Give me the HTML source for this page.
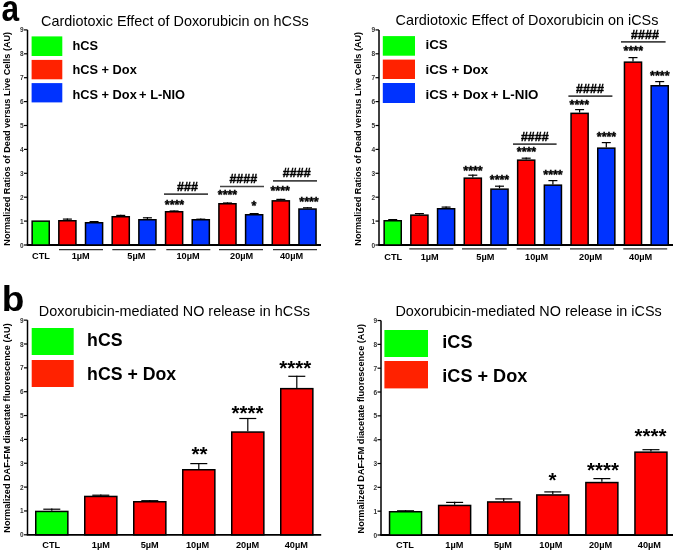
<!DOCTYPE html>
<html><head><meta charset="utf-8"><style>
html,body{margin:0;padding:0;background:#fff;width:675px;height:553px;overflow:hidden;}
body{position:relative;font-family:"Liberation Sans", sans-serif;}
</style></head><body>
<svg width="675" height="553" viewBox="0 0 675 553" style="position:absolute;left:0;top:0;will-change:transform"><g font-family='"Liberation Sans", sans-serif'><g transform="translate(1.6 21.1) scale(0.93 1.07)"><text x="0" y="0" font-size="34" font-weight="700">a</text></g><g transform="translate(1.8 310.8) scale(1 0.97)"><text x="0" y="0" font-size="37" font-weight="700">b</text></g><text x="41" y="25.6" font-size="14.4" font-weight="400" text-anchor="start" fill="#000" >Cardiotoxic Effect of Doxorubicin on hCSs</text><text x="395.5" y="25.4" font-size="14.4" font-weight="400" text-anchor="start" fill="#000" >Cardiotoxic Effect of Doxorubicin on iCSs</text><text x="38.8" y="315.7" font-size="14.4" font-weight="400" text-anchor="start" fill="#000" >Doxorubicin-mediated NO release in hCSs</text><text x="395.4" y="316.2" font-size="14.4" font-weight="400" text-anchor="start" fill="#000" >Doxorubicin-mediated NO release in iCSs</text><line x1="27.5" y1="29.900000000000006" x2="27.5" y2="245.0" stroke="#000" stroke-width="1.5"/><line x1="26.75" y1="245.0" x2="321" y2="245.0" stroke="#000" stroke-width="1.8"/><line x1="24.0" y1="245.0" x2="27.5" y2="245.0" stroke="#000" stroke-width="1.2"/><text x="23.6" y="247.5" font-size="6.5" font-weight="700" text-anchor="end" fill="#333" >0</text><line x1="24.0" y1="221.1" x2="27.5" y2="221.1" stroke="#000" stroke-width="1.2"/><text x="23.6" y="223.6" font-size="6.5" font-weight="700" text-anchor="end" fill="#333" >1</text><line x1="24.0" y1="197.2" x2="27.5" y2="197.2" stroke="#000" stroke-width="1.2"/><text x="23.6" y="199.7" font-size="6.5" font-weight="700" text-anchor="end" fill="#333" >2</text><line x1="24.0" y1="173.3" x2="27.5" y2="173.3" stroke="#000" stroke-width="1.2"/><text x="23.6" y="175.8" font-size="6.5" font-weight="700" text-anchor="end" fill="#333" >3</text><line x1="24.0" y1="149.4" x2="27.5" y2="149.4" stroke="#000" stroke-width="1.2"/><text x="23.6" y="151.9" font-size="6.5" font-weight="700" text-anchor="end" fill="#333" >4</text><line x1="24.0" y1="125.5" x2="27.5" y2="125.5" stroke="#000" stroke-width="1.2"/><text x="23.6" y="128.0" font-size="6.5" font-weight="700" text-anchor="end" fill="#333" >5</text><line x1="24.0" y1="101.60000000000002" x2="27.5" y2="101.60000000000002" stroke="#000" stroke-width="1.2"/><text x="23.6" y="104.1" font-size="6.5" font-weight="700" text-anchor="end" fill="#333" >6</text><line x1="24.0" y1="77.70000000000002" x2="27.5" y2="77.70000000000002" stroke="#000" stroke-width="1.2"/><text x="23.6" y="80.2" font-size="6.5" font-weight="700" text-anchor="end" fill="#333" >7</text><line x1="24.0" y1="53.80000000000001" x2="27.5" y2="53.80000000000001" stroke="#000" stroke-width="1.2"/><text x="23.6" y="56.3" font-size="6.5" font-weight="700" text-anchor="end" fill="#333" >8</text><line x1="24.0" y1="29.900000000000006" x2="27.5" y2="29.900000000000006" stroke="#000" stroke-width="1.2"/><text x="23.6" y="32.4" font-size="6.5" font-weight="700" text-anchor="end" fill="#333" >9</text><g transform="translate(9.9 138.8) rotate(-90) scale(1 1)"><text x="0" y="0" font-size="9.1" font-weight="700" text-anchor="middle">Normalized Ratios of Dead versus Live Cells (AU)</text></g><rect x="32.15" y="221.15" width="17.1" height="23.849999999999994" fill="#00ff00" stroke="#000" stroke-width="1.5"/><rect x="58.83" y="220.75" width="17.1" height="24.25" fill="#ff0000" stroke="#000" stroke-width="1.5"/><line x1="67.38" y1="218.5" x2="67.38" y2="220" stroke="#000" stroke-width="1.2"/><line x1="62.879999999999995" y1="219.1" x2="71.88" y2="219.1" stroke="#000" stroke-width="1.2"/><rect x="85.50999999999999" y="222.75" width="17.1" height="22.25" fill="#0033ff" stroke="#000" stroke-width="1.5"/><line x1="94.05999999999999" y1="221" x2="94.05999999999999" y2="222" stroke="#000" stroke-width="1.2"/><line x1="89.55999999999999" y1="221.6" x2="98.55999999999999" y2="221.6" stroke="#000" stroke-width="1.2"/><rect x="112.19" y="216.75" width="17.1" height="28.25" fill="#ff0000" stroke="#000" stroke-width="1.5"/><line x1="120.74" y1="214.8" x2="120.74" y2="216" stroke="#000" stroke-width="1.2"/><line x1="116.24" y1="215.4" x2="125.24" y2="215.4" stroke="#000" stroke-width="1.2"/><rect x="138.87" y="219.75" width="17.1" height="25.25" fill="#0033ff" stroke="#000" stroke-width="1.5"/><line x1="147.42000000000002" y1="217.2" x2="147.42000000000002" y2="219" stroke="#000" stroke-width="1.2"/><line x1="142.92000000000002" y1="217.79999999999998" x2="151.92000000000002" y2="217.79999999999998" stroke="#000" stroke-width="1.2"/><rect x="165.55" y="211.75" width="17.1" height="33.25" fill="#ff0000" stroke="#000" stroke-width="1.5"/><line x1="174.10000000000002" y1="210.4" x2="174.10000000000002" y2="211" stroke="#000" stroke-width="1.2"/><line x1="169.60000000000002" y1="211.0" x2="178.60000000000002" y2="211.0" stroke="#000" stroke-width="1.2"/><rect x="192.23" y="219.75" width="17.1" height="25.25" fill="#0033ff" stroke="#000" stroke-width="1.5"/><line x1="200.78" y1="218.6" x2="200.78" y2="219" stroke="#000" stroke-width="1.2"/><line x1="196.28" y1="219.2" x2="205.28" y2="219.2" stroke="#000" stroke-width="1.2"/><rect x="218.91" y="203.75" width="17.1" height="41.25" fill="#ff0000" stroke="#000" stroke-width="1.5"/><line x1="227.46" y1="202.4" x2="227.46" y2="203" stroke="#000" stroke-width="1.2"/><line x1="222.96" y1="203.0" x2="231.96" y2="203.0" stroke="#000" stroke-width="1.2"/><rect x="245.59" y="214.75" width="17.1" height="30.25" fill="#0033ff" stroke="#000" stroke-width="1.5"/><line x1="254.14000000000001" y1="213" x2="254.14000000000001" y2="214" stroke="#000" stroke-width="1.2"/><line x1="249.64000000000001" y1="213.6" x2="258.64" y2="213.6" stroke="#000" stroke-width="1.2"/><rect x="272.27" y="200.85" width="17.1" height="44.150000000000006" fill="#ff0000" stroke="#000" stroke-width="1.5"/><line x1="280.82" y1="198.8" x2="280.82" y2="200.1" stroke="#000" stroke-width="1.2"/><line x1="276.32" y1="199.4" x2="285.32" y2="199.4" stroke="#000" stroke-width="1.2"/><rect x="298.95" y="209.05" width="17.1" height="35.94999999999999" fill="#0033ff" stroke="#000" stroke-width="1.5"/><line x1="307.5" y1="207.2" x2="307.5" y2="208.3" stroke="#000" stroke-width="1.2"/><line x1="303.0" y1="207.79999999999998" x2="312.0" y2="207.79999999999998" stroke="#000" stroke-width="1.2"/><rect x="31.6" y="36.4" width="30.7" height="19.6" fill="#00ff00"/><rect x="31.6" y="59.9" width="30.7" height="19.4" fill="#ff2200"/><rect x="31.6" y="83.1" width="30.7" height="19.3" fill="#0033ff"/><text x="72.4" y="49.8" font-size="12.8" font-weight="700" text-anchor="start" fill="#000" >hCS</text><text x="72.4" y="74.4" font-size="12.8" font-weight="700" text-anchor="start" fill="#000" >hCS + Dox</text><text x="72.4" y="99.2" font-size="12.8" font-weight="700" text-anchor="start" fill="#000" >hCS + Dox<tspan dx='-1.2'> + L-NIO</tspan></text><text x="41" y="259.2" font-size="9.2" font-weight="700" text-anchor="middle" fill="#000" >CTL</text><text x="80.7" y="259.2" font-size="9.2" font-weight="700" text-anchor="middle" fill="#000" >1µM</text><text x="136.3" y="259.2" font-size="9.2" font-weight="700" text-anchor="middle" fill="#000" >5µM</text><text x="188" y="259.2" font-size="9.2" font-weight="700" text-anchor="middle" fill="#000" >10µM</text><text x="241.7" y="259.2" font-size="9.2" font-weight="700" text-anchor="middle" fill="#000" >20µM</text><text x="291.6" y="259.2" font-size="9.2" font-weight="700" text-anchor="middle" fill="#000" >40µM</text><line x1="59" y1="249.6" x2="103" y2="249.6" stroke="#333" stroke-width="1.4"/><line x1="112.3" y1="249.6" x2="155.7" y2="249.6" stroke="#333" stroke-width="1.4"/><line x1="166.3" y1="249.6" x2="210.3" y2="249.6" stroke="#333" stroke-width="1.4"/><line x1="219" y1="249.6" x2="263" y2="249.6" stroke="#333" stroke-width="1.4"/><line x1="273" y1="249.6" x2="317" y2="249.6" stroke="#333" stroke-width="1.4"/><line x1="379" y1="29.900000000000006" x2="379" y2="245.0" stroke="#000" stroke-width="1.5"/><line x1="378.25" y1="245.0" x2="673" y2="245.0" stroke="#000" stroke-width="1.8"/><line x1="375.5" y1="245.0" x2="379" y2="245.0" stroke="#000" stroke-width="1.2"/><text x="375.1" y="247.5" font-size="6.5" font-weight="700" text-anchor="end" fill="#333" >0</text><line x1="375.5" y1="221.1" x2="379" y2="221.1" stroke="#000" stroke-width="1.2"/><text x="375.1" y="223.6" font-size="6.5" font-weight="700" text-anchor="end" fill="#333" >1</text><line x1="375.5" y1="197.2" x2="379" y2="197.2" stroke="#000" stroke-width="1.2"/><text x="375.1" y="199.7" font-size="6.5" font-weight="700" text-anchor="end" fill="#333" >2</text><line x1="375.5" y1="173.3" x2="379" y2="173.3" stroke="#000" stroke-width="1.2"/><text x="375.1" y="175.8" font-size="6.5" font-weight="700" text-anchor="end" fill="#333" >3</text><line x1="375.5" y1="149.4" x2="379" y2="149.4" stroke="#000" stroke-width="1.2"/><text x="375.1" y="151.9" font-size="6.5" font-weight="700" text-anchor="end" fill="#333" >4</text><line x1="375.5" y1="125.5" x2="379" y2="125.5" stroke="#000" stroke-width="1.2"/><text x="375.1" y="128.0" font-size="6.5" font-weight="700" text-anchor="end" fill="#333" >5</text><line x1="375.5" y1="101.60000000000002" x2="379" y2="101.60000000000002" stroke="#000" stroke-width="1.2"/><text x="375.1" y="104.1" font-size="6.5" font-weight="700" text-anchor="end" fill="#333" >6</text><line x1="375.5" y1="77.70000000000002" x2="379" y2="77.70000000000002" stroke="#000" stroke-width="1.2"/><text x="375.1" y="80.2" font-size="6.5" font-weight="700" text-anchor="end" fill="#333" >7</text><line x1="375.5" y1="53.80000000000001" x2="379" y2="53.80000000000001" stroke="#000" stroke-width="1.2"/><text x="375.1" y="56.3" font-size="6.5" font-weight="700" text-anchor="end" fill="#333" >8</text><line x1="375.5" y1="29.900000000000006" x2="379" y2="29.900000000000006" stroke="#000" stroke-width="1.2"/><text x="375.1" y="32.4" font-size="6.5" font-weight="700" text-anchor="end" fill="#333" >9</text><g transform="translate(361.4 138.8) rotate(-90) scale(1 1)"><text x="0" y="0" font-size="9.1" font-weight="700" text-anchor="middle">Normalized Ratios of Dead versus Live Cells (AU)</text></g><rect x="384.15" y="220.75" width="17.1" height="24.25" fill="#00ff00" stroke="#000" stroke-width="1.5"/><line x1="392.7" y1="219" x2="392.7" y2="220" stroke="#000" stroke-width="1.2"/><line x1="388.2" y1="219.6" x2="397.2" y2="219.6" stroke="#000" stroke-width="1.2"/><rect x="410.84999999999997" y="215.15" width="17.1" height="29.849999999999994" fill="#ff0000" stroke="#000" stroke-width="1.5"/><line x1="419.4" y1="213" x2="419.4" y2="214.4" stroke="#000" stroke-width="1.2"/><line x1="414.9" y1="213.6" x2="423.9" y2="213.6" stroke="#000" stroke-width="1.2"/><rect x="437.54999999999995" y="208.75" width="17.1" height="36.25" fill="#0033ff" stroke="#000" stroke-width="1.5"/><line x1="446.09999999999997" y1="206.5" x2="446.09999999999997" y2="208" stroke="#000" stroke-width="1.2"/><line x1="441.59999999999997" y1="207.1" x2="450.59999999999997" y2="207.1" stroke="#000" stroke-width="1.2"/><rect x="464.25" y="178.15" width="17.1" height="66.85" fill="#ff0000" stroke="#000" stroke-width="1.5"/><line x1="472.8" y1="174.6" x2="472.8" y2="177.4" stroke="#000" stroke-width="1.2"/><line x1="468.3" y1="175.2" x2="477.3" y2="175.2" stroke="#000" stroke-width="1.2"/><rect x="490.95" y="189.15" width="17.1" height="55.849999999999994" fill="#0033ff" stroke="#000" stroke-width="1.5"/><line x1="499.5" y1="185.6" x2="499.5" y2="188.4" stroke="#000" stroke-width="1.2"/><line x1="495.0" y1="186.2" x2="504.0" y2="186.2" stroke="#000" stroke-width="1.2"/><rect x="517.65" y="160.15" width="17.1" height="84.85" fill="#ff0000" stroke="#000" stroke-width="1.5"/><line x1="526.1999999999999" y1="157.6" x2="526.1999999999999" y2="159.4" stroke="#000" stroke-width="1.2"/><line x1="521.6999999999999" y1="158.2" x2="530.6999999999999" y2="158.2" stroke="#000" stroke-width="1.2"/><rect x="544.3499999999999" y="185.15" width="17.1" height="59.849999999999994" fill="#0033ff" stroke="#000" stroke-width="1.5"/><line x1="552.8999999999999" y1="180" x2="552.8999999999999" y2="184.4" stroke="#000" stroke-width="1.2"/><line x1="548.3999999999999" y1="180.6" x2="557.3999999999999" y2="180.6" stroke="#000" stroke-width="1.2"/><rect x="571.05" y="113.35" width="17.1" height="131.65" fill="#ff0000" stroke="#000" stroke-width="1.5"/><line x1="579.5999999999999" y1="109" x2="579.5999999999999" y2="112.6" stroke="#000" stroke-width="1.2"/><line x1="575.0999999999999" y1="109.6" x2="584.0999999999999" y2="109.6" stroke="#000" stroke-width="1.2"/><rect x="597.75" y="148.15" width="17.1" height="96.85" fill="#0033ff" stroke="#000" stroke-width="1.5"/><line x1="606.3" y1="142" x2="606.3" y2="147.4" stroke="#000" stroke-width="1.2"/><line x1="601.8" y1="142.6" x2="610.8" y2="142.6" stroke="#000" stroke-width="1.2"/><rect x="624.4499999999999" y="62.15" width="17.1" height="182.85" fill="#ff0000" stroke="#000" stroke-width="1.5"/><line x1="632.9999999999999" y1="57" x2="632.9999999999999" y2="61.4" stroke="#000" stroke-width="1.2"/><line x1="628.4999999999999" y1="57.6" x2="637.4999999999999" y2="57.6" stroke="#000" stroke-width="1.2"/><rect x="651.15" y="85.75" width="17.1" height="159.25" fill="#0033ff" stroke="#000" stroke-width="1.5"/><line x1="659.6999999999999" y1="81" x2="659.6999999999999" y2="85" stroke="#000" stroke-width="1.2"/><line x1="655.1999999999999" y1="81.6" x2="664.1999999999999" y2="81.6" stroke="#000" stroke-width="1.2"/><rect x="382.8" y="36.1" width="32.2" height="19.6" fill="#00ff00"/><rect x="382.8" y="59.6" width="32.2" height="19.4" fill="#ff2200"/><rect x="382.8" y="83" width="32.2" height="20" fill="#0033ff"/><text x="425.5" y="49.4" font-size="13.35" font-weight="700" text-anchor="start" fill="#000" >iCS</text><text x="425.5" y="74.1" font-size="13.35" font-weight="700" text-anchor="start" fill="#000" >iCS + Dox</text><text x="425.5" y="99.4" font-size="13.35" font-weight="700" text-anchor="start" fill="#000" >iCS + Dox<tspan dx='-1.2'> + L-NIO</tspan></text><text x="393.2" y="260.2" font-size="9.2" font-weight="700" text-anchor="middle" fill="#000" >CTL</text><text x="429.7" y="260.2" font-size="9.2" font-weight="700" text-anchor="middle" fill="#000" >1µM</text><text x="485.3" y="260.2" font-size="9.2" font-weight="700" text-anchor="middle" fill="#000" >5µM</text><text x="536.7" y="260.2" font-size="9.2" font-weight="700" text-anchor="middle" fill="#000" >10µM</text><text x="590.7" y="260.2" font-size="9.2" font-weight="700" text-anchor="middle" fill="#000" >20µM</text><text x="640.7" y="260.2" font-size="9.2" font-weight="700" text-anchor="middle" fill="#000" >40µM</text><line x1="409.3" y1="248.9" x2="453.3" y2="248.9" stroke="#333" stroke-width="1.4"/><line x1="462" y1="248.9" x2="506.7" y2="248.9" stroke="#333" stroke-width="1.4"/><line x1="516.7" y1="248.9" x2="560" y2="248.9" stroke="#333" stroke-width="1.4"/><line x1="570" y1="248.9" x2="614" y2="248.9" stroke="#333" stroke-width="1.4"/><line x1="623.3" y1="248.9" x2="667.2" y2="248.9" stroke="#333" stroke-width="1.4"/><line x1="27.5" y1="320.15" x2="27.5" y2="534.8" stroke="#000" stroke-width="1.5"/><line x1="26.75" y1="534.8" x2="321.2" y2="534.8" stroke="#000" stroke-width="1.8"/><line x1="24.0" y1="534.8" x2="27.5" y2="534.8" stroke="#000" stroke-width="1.2"/><text x="23.6" y="537.3" font-size="6.5" font-weight="700" text-anchor="end" fill="#333" >0</text><line x1="24.0" y1="510.94999999999993" x2="27.5" y2="510.94999999999993" stroke="#000" stroke-width="1.2"/><text x="23.6" y="513.4" font-size="6.5" font-weight="700" text-anchor="end" fill="#333" >1</text><line x1="24.0" y1="487.09999999999997" x2="27.5" y2="487.09999999999997" stroke="#000" stroke-width="1.2"/><text x="23.6" y="489.6" font-size="6.5" font-weight="700" text-anchor="end" fill="#333" >2</text><line x1="24.0" y1="463.24999999999994" x2="27.5" y2="463.24999999999994" stroke="#000" stroke-width="1.2"/><text x="23.6" y="465.7" font-size="6.5" font-weight="700" text-anchor="end" fill="#333" >3</text><line x1="24.0" y1="439.4" x2="27.5" y2="439.4" stroke="#000" stroke-width="1.2"/><text x="23.6" y="441.9" font-size="6.5" font-weight="700" text-anchor="end" fill="#333" >4</text><line x1="24.0" y1="415.54999999999995" x2="27.5" y2="415.54999999999995" stroke="#000" stroke-width="1.2"/><text x="23.6" y="418.0" font-size="6.5" font-weight="700" text-anchor="end" fill="#333" >5</text><line x1="24.0" y1="391.69999999999993" x2="27.5" y2="391.69999999999993" stroke="#000" stroke-width="1.2"/><text x="23.6" y="394.2" font-size="6.5" font-weight="700" text-anchor="end" fill="#333" >6</text><line x1="24.0" y1="367.8499999999999" x2="27.5" y2="367.8499999999999" stroke="#000" stroke-width="1.2"/><text x="23.6" y="370.3" font-size="6.5" font-weight="700" text-anchor="end" fill="#333" >7</text><line x1="24.0" y1="343.99999999999994" x2="27.5" y2="343.99999999999994" stroke="#000" stroke-width="1.2"/><text x="23.6" y="346.5" font-size="6.5" font-weight="700" text-anchor="end" fill="#333" >8</text><line x1="24.0" y1="320.15" x2="27.5" y2="320.15" stroke="#000" stroke-width="1.2"/><text x="23.6" y="322.6" font-size="6.5" font-weight="700" text-anchor="end" fill="#333" >9</text><g transform="translate(9.6 428) rotate(-90) scale(1 1)"><text x="0" y="0" font-size="9.15" font-weight="700" text-anchor="middle">Normalized DAF-FM diacetate fluorescence (AU)</text></g><rect x="35.75" y="511.45" width="32.1" height="23.349999999999966" fill="#00ff00" stroke="#000" stroke-width="1.5"/><line x1="51.8" y1="508.6" x2="51.8" y2="510.7" stroke="#000" stroke-width="1.2"/><line x1="43.3" y1="509.20000000000005" x2="60.3" y2="509.20000000000005" stroke="#000" stroke-width="1.2"/><rect x="84.75" y="496.45" width="32.1" height="38.349999999999966" fill="#ff0000" stroke="#000" stroke-width="1.5"/><line x1="100.8" y1="494.6" x2="100.8" y2="495.7" stroke="#000" stroke-width="1.2"/><line x1="92.3" y1="495.20000000000005" x2="109.3" y2="495.20000000000005" stroke="#000" stroke-width="1.2"/><rect x="133.75" y="501.75" width="32.1" height="33.049999999999955" fill="#ff0000" stroke="#000" stroke-width="1.5"/><line x1="149.8" y1="500.1" x2="149.8" y2="501.0" stroke="#000" stroke-width="1.2"/><line x1="141.3" y1="500.70000000000005" x2="158.3" y2="500.70000000000005" stroke="#000" stroke-width="1.2"/><rect x="182.75" y="469.75" width="32.1" height="65.04999999999995" fill="#ff0000" stroke="#000" stroke-width="1.5"/><line x1="198.8" y1="463.0" x2="198.8" y2="469.0" stroke="#000" stroke-width="1.2"/><line x1="190.3" y1="463.6" x2="207.3" y2="463.6" stroke="#000" stroke-width="1.2"/><rect x="231.75" y="432.05" width="32.1" height="102.74999999999994" fill="#ff0000" stroke="#000" stroke-width="1.5"/><line x1="247.8" y1="417.9" x2="247.8" y2="431.3" stroke="#000" stroke-width="1.2"/><line x1="239.3" y1="418.5" x2="256.3" y2="418.5" stroke="#000" stroke-width="1.2"/><rect x="280.75" y="388.65" width="32.1" height="146.14999999999998" fill="#ff0000" stroke="#000" stroke-width="1.5"/><line x1="296.8" y1="375.7" x2="296.8" y2="387.9" stroke="#000" stroke-width="1.2"/><line x1="288.3" y1="376.3" x2="305.3" y2="376.3" stroke="#000" stroke-width="1.2"/><rect x="31.7" y="328" width="42" height="27" fill="#00ff00"/><rect x="31.7" y="360" width="42" height="27" fill="#ff2200"/><text x="87.1" y="346" font-size="17.7" font-weight="700" text-anchor="start" fill="#000" >hCS</text><text x="87.1" y="379.6" font-size="17.7" font-weight="700" text-anchor="start" fill="#000" >hCS + Dox</text><text x="51.3" y="548.4" font-size="9.2" font-weight="700" text-anchor="middle" fill="#000" >CTL</text><text x="100.9" y="548.4" font-size="9.2" font-weight="700" text-anchor="middle" fill="#000" >1µM</text><text x="149.7" y="548.4" font-size="9.2" font-weight="700" text-anchor="middle" fill="#000" >5µM</text><text x="197.6" y="548.4" font-size="9.2" font-weight="700" text-anchor="middle" fill="#000" >10µM</text><text x="247.6" y="548.4" font-size="9.2" font-weight="700" text-anchor="middle" fill="#000" >20µM</text><text x="296.3" y="548.4" font-size="9.2" font-weight="700" text-anchor="middle" fill="#000" >40µM</text><line x1="381" y1="320.53000000000003" x2="381" y2="535.0" stroke="#000" stroke-width="1.5"/><line x1="380.25" y1="535.0" x2="673" y2="535.0" stroke="#000" stroke-width="1.8"/><line x1="377.5" y1="535.0" x2="381" y2="535.0" stroke="#000" stroke-width="1.2"/><text x="377.1" y="537.5" font-size="6.5" font-weight="700" text-anchor="end" fill="#333" >0</text><line x1="377.5" y1="511.17" x2="381" y2="511.17" stroke="#000" stroke-width="1.2"/><text x="377.1" y="513.7" font-size="6.5" font-weight="700" text-anchor="end" fill="#333" >1</text><line x1="377.5" y1="487.34000000000003" x2="381" y2="487.34000000000003" stroke="#000" stroke-width="1.2"/><text x="377.1" y="489.8" font-size="6.5" font-weight="700" text-anchor="end" fill="#333" >2</text><line x1="377.5" y1="463.51" x2="381" y2="463.51" stroke="#000" stroke-width="1.2"/><text x="377.1" y="466.0" font-size="6.5" font-weight="700" text-anchor="end" fill="#333" >3</text><line x1="377.5" y1="439.68" x2="381" y2="439.68" stroke="#000" stroke-width="1.2"/><text x="377.1" y="442.2" font-size="6.5" font-weight="700" text-anchor="end" fill="#333" >4</text><line x1="377.5" y1="415.85" x2="381" y2="415.85" stroke="#000" stroke-width="1.2"/><text x="377.1" y="418.4" font-size="6.5" font-weight="700" text-anchor="end" fill="#333" >5</text><line x1="377.5" y1="392.02" x2="381" y2="392.02" stroke="#000" stroke-width="1.2"/><text x="377.1" y="394.5" font-size="6.5" font-weight="700" text-anchor="end" fill="#333" >6</text><line x1="377.5" y1="368.19" x2="381" y2="368.19" stroke="#000" stroke-width="1.2"/><text x="377.1" y="370.7" font-size="6.5" font-weight="700" text-anchor="end" fill="#333" >7</text><line x1="377.5" y1="344.36" x2="381" y2="344.36" stroke="#000" stroke-width="1.2"/><text x="377.1" y="346.9" font-size="6.5" font-weight="700" text-anchor="end" fill="#333" >8</text><line x1="377.5" y1="320.53000000000003" x2="381" y2="320.53000000000003" stroke="#000" stroke-width="1.2"/><text x="377.1" y="323.0" font-size="6.5" font-weight="700" text-anchor="end" fill="#333" >9</text><g transform="translate(364.0 428.7) rotate(-90) scale(1 1)"><text x="0" y="0" font-size="9.15" font-weight="700" text-anchor="middle">Normalized DAF-FM diacetate fluorescence (AU)</text></g><rect x="389.55" y="511.75" width="32.0" height="23.25" fill="#00ff00" stroke="#000" stroke-width="1.5"/><line x1="405.55" y1="510.2" x2="405.55" y2="511" stroke="#000" stroke-width="1.2"/><line x1="397.05" y1="510.8" x2="414.05" y2="510.8" stroke="#000" stroke-width="1.2"/><rect x="438.63" y="505.45" width="32.0" height="29.55000000000001" fill="#ff0000" stroke="#000" stroke-width="1.5"/><line x1="454.63" y1="501.8" x2="454.63" y2="504.7" stroke="#000" stroke-width="1.2"/><line x1="446.13" y1="502.40000000000003" x2="463.13" y2="502.40000000000003" stroke="#000" stroke-width="1.2"/><rect x="487.71000000000004" y="501.95" width="32.0" height="33.05000000000001" fill="#ff0000" stroke="#000" stroke-width="1.5"/><line x1="503.71000000000004" y1="498.3" x2="503.71000000000004" y2="501.2" stroke="#000" stroke-width="1.2"/><line x1="495.21000000000004" y1="498.90000000000003" x2="512.21" y2="498.90000000000003" stroke="#000" stroke-width="1.2"/><rect x="536.79" y="494.95" width="32.0" height="40.05000000000001" fill="#ff0000" stroke="#000" stroke-width="1.5"/><line x1="552.79" y1="491.3" x2="552.79" y2="494.2" stroke="#000" stroke-width="1.2"/><line x1="544.29" y1="491.90000000000003" x2="561.29" y2="491.90000000000003" stroke="#000" stroke-width="1.2"/><rect x="585.87" y="482.55" width="32.0" height="52.44999999999999" fill="#ff0000" stroke="#000" stroke-width="1.5"/><line x1="601.87" y1="478" x2="601.87" y2="481.8" stroke="#000" stroke-width="1.2"/><line x1="593.37" y1="478.6" x2="610.37" y2="478.6" stroke="#000" stroke-width="1.2"/><rect x="634.95" y="452.15" width="32.0" height="82.85000000000002" fill="#ff0000" stroke="#000" stroke-width="1.5"/><line x1="650.95" y1="449.1" x2="650.95" y2="451.4" stroke="#000" stroke-width="1.2"/><line x1="642.45" y1="449.70000000000005" x2="659.45" y2="449.70000000000005" stroke="#000" stroke-width="1.2"/><rect x="384.4" y="330" width="43.6" height="27" fill="#00ff00"/><rect x="384.4" y="361" width="43.6" height="27.4" fill="#ff2200"/><text x="442.3" y="348.1" font-size="18.1" font-weight="700" text-anchor="start" fill="#000" >iCS</text><text x="442.3" y="382.1" font-size="18.1" font-weight="700" text-anchor="start" fill="#000" >iCS + Dox</text><text x="405" y="548.4" font-size="9.2" font-weight="700" text-anchor="middle" fill="#000" >CTL</text><text x="454.4" y="548.4" font-size="9.2" font-weight="700" text-anchor="middle" fill="#000" >1µM</text><text x="503" y="548.4" font-size="9.2" font-weight="700" text-anchor="middle" fill="#000" >5µM</text><text x="550.9" y="548.4" font-size="9.2" font-weight="700" text-anchor="middle" fill="#000" >10µM</text><text x="600.6" y="548.4" font-size="9.2" font-weight="700" text-anchor="middle" fill="#000" >20µM</text><text x="649.4" y="548.4" font-size="9.2" font-weight="700" text-anchor="middle" fill="#000" >40µM</text><text x="174.5" y="208.7" font-size="12.5" font-weight="700" text-anchor="middle" fill="#000" stroke='#000' stroke-width='0.4'>****</text><line x1="164" y1="194.1" x2="208" y2="194.1" stroke="#444" stroke-width="1.6"/><g transform="translate(187.5 191.3) scale(0.92 1)"><text x="0" y="0" font-size="13.6" font-weight="700" text-anchor="middle" stroke="#000" stroke-width="0.45">###</text></g><text x="227.5" y="198.8" font-size="12.5" font-weight="700" text-anchor="middle" fill="#000" stroke='#000' stroke-width='0.4'>****</text><text x="254" y="210.4" font-size="12.5" font-weight="700" text-anchor="middle" fill="#000" stroke='#000' stroke-width='0.4'>*</text><line x1="220" y1="186.5" x2="264" y2="186.5" stroke="#444" stroke-width="1.6"/><g transform="translate(243.3 183.3) scale(0.92 1)"><text x="0" y="0" font-size="13.6" font-weight="700" text-anchor="middle" stroke="#000" stroke-width="0.45">####</text></g><text x="280.2" y="194.8" font-size="12.5" font-weight="700" text-anchor="middle" fill="#000" stroke='#000' stroke-width='0.4'>****</text><text x="309" y="206.3" font-size="12.5" font-weight="700" text-anchor="middle" fill="#000" stroke='#000' stroke-width='0.4'>****</text><line x1="273" y1="180.9" x2="317" y2="180.9" stroke="#444" stroke-width="1.6"/><g transform="translate(296.7 177.0) scale(0.92 1)"><text x="0" y="0" font-size="13.6" font-weight="700" text-anchor="middle" stroke="#000" stroke-width="0.45">####</text></g><text x="473" y="174.7" font-size="12.5" font-weight="700" text-anchor="middle" fill="#000" stroke='#000' stroke-width='0.4'>****</text><text x="499.5" y="184.2" font-size="12.5" font-weight="700" text-anchor="middle" fill="#000" stroke='#000' stroke-width='0.4'>****</text><text x="526.5" y="156.2" font-size="12.5" font-weight="700" text-anchor="middle" fill="#000" stroke='#000' stroke-width='0.4'>****</text><text x="553" y="178.7" font-size="12.5" font-weight="700" text-anchor="middle" fill="#000" stroke='#000' stroke-width='0.4'>****</text><line x1="513" y1="144.1" x2="556.6" y2="144.1" stroke="#444" stroke-width="1.6"/><g transform="translate(534.8 141.3) scale(0.92 1)"><text x="0" y="0" font-size="13.6" font-weight="700" text-anchor="middle" stroke="#000" stroke-width="0.45">####</text></g><text x="579.3" y="108.7" font-size="12.5" font-weight="700" text-anchor="middle" fill="#000" stroke='#000' stroke-width='0.4'>****</text><text x="606.5" y="140.7" font-size="12.5" font-weight="700" text-anchor="middle" fill="#000" stroke='#000' stroke-width='0.4'>****</text><line x1="568.4" y1="96.1" x2="612.4" y2="96.1" stroke="#444" stroke-width="1.6"/><g transform="translate(590.0 92.7) scale(0.92 1)"><text x="0" y="0" font-size="13.6" font-weight="700" text-anchor="middle" stroke="#000" stroke-width="0.45">####</text></g><text x="633.3" y="55.2" font-size="12.5" font-weight="700" text-anchor="middle" fill="#000" stroke='#000' stroke-width='0.4'>****</text><text x="659.8" y="80.2" font-size="12.5" font-weight="700" text-anchor="middle" fill="#000" stroke='#000' stroke-width='0.4'>****</text><line x1="621" y1="41.9" x2="665.6" y2="41.9" stroke="#444" stroke-width="1.6"/><g transform="translate(645.0 39.3) scale(0.92 1)"><text x="0" y="0" font-size="13.6" font-weight="700" text-anchor="middle" stroke="#000" stroke-width="0.45">####</text></g><text x="199.5" y="461.1" font-size="20.5" font-weight="700" text-anchor="middle" fill="#000" >**</text><text x="247.5" y="419.8" font-size="20.5" font-weight="700" text-anchor="middle" fill="#000" >****</text><text x="295.2" y="374.8" font-size="20.5" font-weight="700" text-anchor="middle" fill="#000" >****</text><text x="552.5" y="487.2" font-size="20.5" font-weight="700" text-anchor="middle" fill="#000" >*</text><text x="603" y="477.1" font-size="20.5" font-weight="700" text-anchor="middle" fill="#000" >****</text><text x="650.5" y="443.4" font-size="20.5" font-weight="700" text-anchor="middle" fill="#000" >****</text></g></svg>
</body></html>
